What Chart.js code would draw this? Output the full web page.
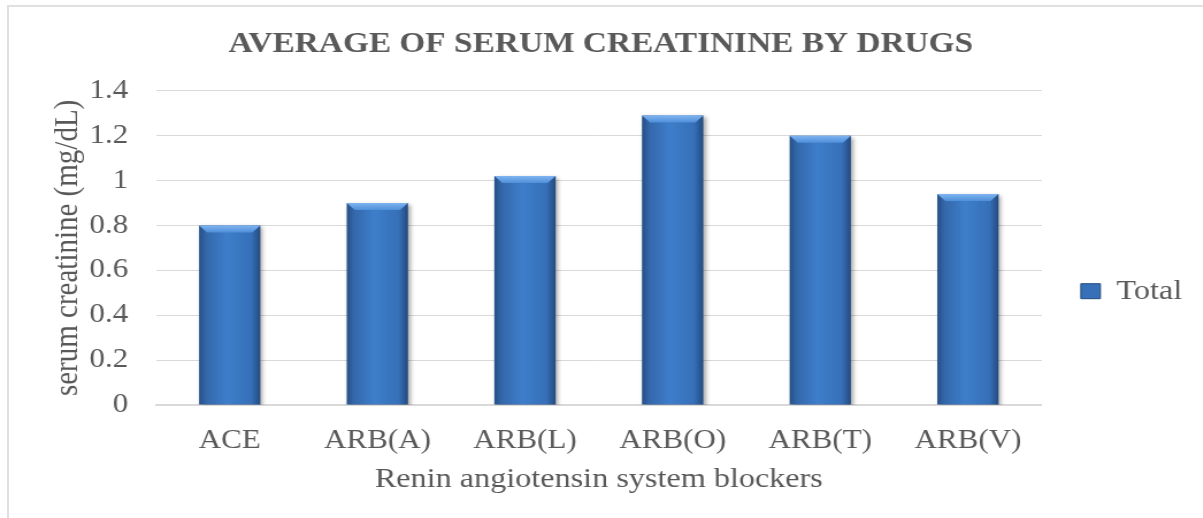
<!DOCTYPE html>
<html lang="en">
<head>
    <meta charset="UTF-8">
    <title>Average of Serum Creatinine by Drugs</title>
    <script src="https://cdn.jsdelivr.net/npm/chart.js"></script>
    <style>
        html, body { margin: 0; padding: 0; background: #fff; overflow: hidden; }
        .frame {
            position: absolute; left: 7px; top: 5px;
            width: 1300px; height: 600px;
            border: 2px solid #e0e0e0;
        }
        /* the source image is stretched a bit horizontally */
        .chart-box {
            position: absolute; left: 0; top: 0;
            width: 1046px; height: 518px;
            transform: scaleX(1.15); transform-origin: 0 0;
        }
    </style>
</head>
<body>
    <div class="frame"></div>
    <div class="chart-box">
        <canvas id="creatinineChart"></canvas>
    </div>

    <script>
        // data
        const drugs = ['ACE', 'ARB(A)', 'ARB(L)', 'ARB(O)', 'ARB(T)', 'ARB(V)'];
        const totals = [0.80, 0.90, 1.02, 1.29, 1.20, 0.94];
        const yTicks = [0, 0.2, 0.4, 0.6, 0.8, 1, 1.2, 1.4];

        const textColor = '#595959';
        const serif = '"Liberation Serif", "Times New Roman", serif';
        const barPct = 0.415;

        // horizontal gradient per bar (dark edges, lighter middle)
        function barFill(c) {
            const chart = c.chart;
            const xs = chart.scales.x;
            if (!chart.chartArea || !xs || c.dataIndex === undefined) return '#3a74bd';
            const cx = xs.getPixelForValue(c.dataIndex);
            const half = (xs.width / drugs.length) * barPct / 2;
            const g = chart.ctx.createLinearGradient(cx - half, 0, cx + half, 0);
            g.addColorStop(0, '#264f85');
            g.addColorStop(0.12, '#3468ab');
            g.addColorStop(0.45, '#3e7ecb');
            g.addColorStop(0.85, '#3670b8');
            g.addColorStop(1, '#234a7e');
            return g;
        }

        // soft shadow under the bars + light bevel on their tops
        const bevelPlugin = {
            id: 'bevel',
            beforeDatasetsDraw(chart) {
                const ctx = chart.ctx;
                ctx.save();
                ctx.shadowColor = 'rgba(0,0,0,0.35)';
                ctx.shadowBlur = 4;
                ctx.shadowOffsetX = 2;
                ctx.shadowOffsetY = 2;
            },
            afterDatasetsDraw(chart) {
                const ctx = chart.ctx;
                ctx.restore();
                const meta = chart.getDatasetMeta(0);
                meta.data.forEach(el => {
                    const l = el.x - el.width / 2;
                    const r = el.x + el.width / 2;
                    const b = 7;
                    const g = ctx.createLinearGradient(0, el.y, 0, el.y + b);
                    g.addColorStop(0, '#7fb4f0');
                    g.addColorStop(1, '#4f8fda');
                    ctx.save();
                    ctx.fillStyle = g;
                    ctx.beginPath();
                    ctx.moveTo(l, el.y);
                    ctx.lineTo(r, el.y);
                    ctx.lineTo(r - b, el.y + b);
                    ctx.lineTo(l + b, el.y + b);
                    ctx.closePath();
                    ctx.fill();
                    ctx.restore();
                });
            }
        };

        const ctx = document.getElementById('creatinineChart').getContext('2d');

        new Chart(ctx, {
            type: 'bar',
            data: {
                labels: drugs,
                datasets: [{
                    label: 'Total',
                    data: totals,
                    backgroundColor: barFill,
                    borderWidth: 0,
                    barPercentage: barPct,
                    categoryPercentage: 1
                }]
            },
            plugins: [bevelPlugin],
            options: {
                responsive: true,
                maintainAspectRatio: false,
                animation: false,
                layout: { padding: { top: 10, left: 7, right: 8, bottom: 18 } },
                plugins: {
                    title: {
                        display: true,
                        text: 'AVERAGE OF SERUM CREATININE BY DRUGS',
                        color: textColor,
                        font: { family: serif, size: 29, weight: 'bold' },
                        padding: { top: 17, bottom: 29 }
                    },
                    legend: {
                        position: 'right',
                        title: {
                            display: true,
                            text: ' ',
                            font: { size: 12 },
                            padding: { top: 28, bottom: 30 }
                        },
                        labels: {
                            color: textColor,
                            font: { family: serif, size: 28 },
                            boxWidth: 17,
                            boxHeight: 15,
                            padding: 34,
                            generateLabels(chart) {
                                const items = Chart.defaults.plugins.legend.labels.generateLabels(chart);
                                items.forEach(it => { it.fillStyle = '#3670b8'; it.strokeStyle = '#234a7e'; it.lineWidth = 1; });
                                return items;
                            }
                        }
                    },
                    tooltip: { enabled: false }
                },
                scales: {
                    x: {
                        grid: { display: false },
                        border: { color: '#d9d9d9', width: 2 },
                        ticks: { color: textColor, font: { family: serif, size: 27 }, padding: 12 },
                        title: {
                            display: true,
                            text: 'Renin angiotensin system blockers',
                            color: textColor,
                            font: { family: serif, size: 28 },
                            padding: { top: -7 }
                        }
                    },
                    y: {
                        min: 0,
                        max: 1.4,
                        afterBuildTicks(scale) {
                            scale.ticks = yTicks.map(v => ({ value: v }));
                        },
                        grid: { color: '#d9d9d9', drawTicks: false },
                        border: { display: false },
                        ticks: {
                            color: textColor,
                            font: { family: serif, size: 27 },
                            padding: 24,
                            callback: v => String(v)
                        },
                        title: {
                            display: true,
                            text: 'serum creatinine (mg/dL)',
                            color: textColor,
                            font: { family: serif, size: 29 },
                            padding: { top: 35, bottom: -23 }
                        }
                    }
                }
            }
        });
    </script>
</body>
</html>
